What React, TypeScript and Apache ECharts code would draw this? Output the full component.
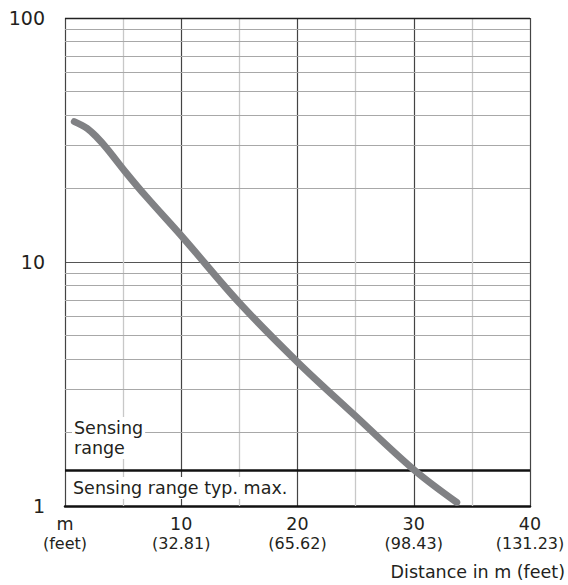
import React, { useEffect, useRef } from "react";
import * as echarts from "echarts";

// Curve: distance (m) vs. value (log scale)
const curveX = [0.8, 1.9, 2.7, 3.6, 5.2, 7, 10.2, 15, 20.1, 24.9, 30, 33.7];
const curveY = [37.6, 35.3, 32.6, 29.2, 23.4, 18.5, 12.5, 6.8, 3.85, 2.36, 1.41, 1.035];

// Tick labels
const xMain = ["m", "10", "20", "30", "40"];
const xFeet = ["(feet)", "(32.81)", "(65.62)", "(98.43)", "(131.23)"];
const minorX = [5, 15, 25, 35];
const minorY = [2, 3, 4, 5, 6, 7, 8, 9, 20, 30, 40, 50, 60, 70, 80, 90];
const sensingMax = 1.4;

const FONT = "DejaVu Sans";
const TXT = "#231f20";

export default function App() {
  const ref = useRef<HTMLDivElement>(null);
  useEffect(() => {
    if (!ref.current) return;
    const chart = echarts.init(ref.current, null, { renderer: "svg" });
    chart.setOption({
      animation: false,
      backgroundColor: "#fff",
      grid: { left: 65, right: 38, top: 18, bottom: 79 },
      xAxis: {
        type: "value",
        min: 0,
        max: 40,
        interval: 10,
        axisLine: { show: true, onZero: false, lineStyle: { color: "#111", width: 2.5 } },
        axisTick: { show: false },
        splitLine: { show: true, lineStyle: { color: "#444", width: 1.2 } },
        axisLabel: {
          margin: 8,
          formatter: (v: number) => {
            const i = Math.round(v / 10);
            return `{a|${xMain[i]}}\n{b|${xFeet[i]}}`;
          },
          rich: {
            a: { fontFamily: FONT, fontSize: 17.5, lineHeight: 20, color: TXT },
            b: { fontFamily: FONT, fontSize: 16, lineHeight: 19, color: TXT },
          },
        },
      },
      yAxis: {
        type: "log",
        logBase: 10,
        min: 1,
        max: 100,
        axisLine: { show: false },
        axisTick: { show: false },
        splitLine: { show: true, lineStyle: { color: "#555", width: 1.2 } },
        axisLabel: {
          margin: 20,
          fontFamily: FONT,
          fontSize: 19,
          color: TXT,
          padding: [0, 0, 4, 0],
        },
      },
      series: [
        {
          type: "line",
          z: 1,
          data: [],
          silent: true,
          markLine: {
            silent: true,
            symbol: "none",
            label: { show: false },
            data: [
              ...minorX.map((v) => ({ xAxis: v, lineStyle: { color: "#c8c8c8", width: 1.3, type: "solid" } })),
              ...minorY.map((v) => ({ yAxis: v, lineStyle: { color: "#a8a8a8", width: 1.2, type: "solid" } })),
            ],
          },
        },
        {
          type: "line",
          z: 2,
          data: [],
          silent: true,
          markLine: {
            silent: true,
            symbol: "none",
            label: { show: false },
            data: [
              { yAxis: sensingMax, lineStyle: { color: "#111", width: 2.5, type: "solid" } },
              { yAxis: 100, lineStyle: { color: "#222", width: 1.3, type: "solid" } },
            ],
          },
        },
        {
          type: "line",
          z: 5,
          data: curveX.map((x, i) => [x, curveY[i]]),
          smooth: 0.35,
          symbol: "none",
          lineStyle: { color: "#808184", width: 7, cap: "round", join: "round" },
        },
      ],
      graphic: [
        {
          type: "text",
          z: 100,
          left: 72,
          top: 417,
          style: {
            text: "Sensing\nrange",
            font: `17.5px "${FONT}"`,
            fill: TXT,
            lineHeight: 20,
            backgroundColor: "#fff",
            padding: [1, 2, 1, 2],
          },
        },
        {
          type: "text",
          z: 100,
          left: 70,
          top: 477,
          style: {
            text: "Sensing range typ. max.",
            font: `17.5px "${FONT}"`,
            fill: TXT,
            backgroundColor: "#fff",
            padding: [2, 3, 2, 3],
          },
        },
        {
          type: "text",
          z: 100,
          right: 3,
          top: 563,
          style: {
            text: "Distance in m (feet)",
            font: `17.5px "${FONT}"`,
            fill: TXT,
          },
        },
      ],
    });
    return () => chart.dispose();
  }, []);
  return (
    <div
      ref={ref}
      style={{ position: "fixed", left: 0, top: 0, width: 568, height: 585, background: "#fff" }}
    />
  );
}
